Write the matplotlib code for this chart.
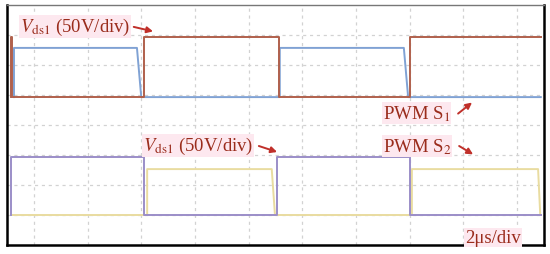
import matplotlib.pyplot as plt

# Осциллограмма: время в делениях (2 мкс/дел), уровни в делениях
red_t = [0.08, 0.08, 0.09, 0.09, 2.55, 2.55, 5.07, 5.07, 7.50, 7.50, 9.94]
red_v = [4.93, 6.93, 6.93, 4.93, 4.93, 6.93, 6.93, 4.93, 4.93, 6.93, 6.93]

blue_t = [0.13, 0.13, 2.42, 2.50, 5.08, 5.08, 7.39, 7.47, 9.94]
blue_v = [4.93, 6.57, 6.57, 4.93, 4.93, 6.57, 6.57, 4.93, 4.93]

purple_t = [0.08, 0.08, 2.55, 2.55, 5.03, 5.03, 7.50, 7.50, 9.94]
purple_v = [1.00, 2.93, 2.93, 1.00, 1.00, 2.93, 2.93, 1.00, 1.00]

yellow_t = [0.08, 2.61, 2.61, 4.93, 4.99, 7.54, 7.54, 9.89, 9.93]
yellow_v = [1.00, 1.00, 2.53, 2.53, 1.00, 1.00, 2.53, 2.53, 1.00]

grid_x = [0.5, 1.5, 2.5, 3.5, 4.5, 5.5, 6.5, 7.5, 8.5, 9.5]
grid_y = [1, 2, 3, 4, 5, 6, 7]

plt.rcParams['font.family'] = ['Liberation Serif', 'DejaVu Serif']
plt.rcParams['mathtext.fontset'] = 'stix'

fig = plt.figure(figsize=(5.5, 2.55), dpi=100)
ax = fig.add_axes([7 / 550, 9 / 255, 537 / 550, 240 / 255])
ax.set_xlim(0, 10)
ax.set_ylim(0, 8)
ax.set_xticks([])
ax.set_yticks([])

# Сетка
for gx in grid_x:
    ax.axvline(gx, color='#d2d2d2', lw=0.9, ls=(0, (2.5, 3)), zorder=1)
for gy in grid_y:
    ax.axhline(gy, color='#d2d2d2', lw=0.9, ls=(0, (2.5, 3)), zorder=1)

# Сигналы
ax.plot(yellow_t, yellow_v, color='#e9dca0', lw=1.4, zorder=2)
ax.plot(purple_t, purple_v, color='#9b8ec8', lw=1.4, zorder=3)
ax.plot(blue_t, blue_v, color='#80a2d4', lw=1.4, zorder=3)
ax.plot(red_t, red_v, color='#b0604c', lw=1.4, zorder=3)

txt_color = '#9a2c1c'
arr_color = '#c0302a'
box = dict(facecolor='#fde8ef', edgecolor='none', pad=0.5)
fs = 13.5

def label(x, y, s, a_from, a_to):
    ax.text(x, y, s, fontsize=fs, color=txt_color, ha='left', va='baseline',
            bbox=box, zorder=5)
    if a_from is not None:
        ax.annotate('', xy=a_to, xytext=a_from,
                    arrowprops=dict(arrowstyle='-|>', color=arr_color,
                                    lw=1.4, mutation_scale=9,
                                    shrinkA=0, shrinkB=0), zorder=6)

label(0.24, 7.13, r'$V_{\mathrm{ds1}}$ (50V/div)', (2.36, 7.27), (2.72, 7.12))
label(7.00, 4.23, r'PWM S$_{1}$', (8.40, 4.38), (8.66, 4.75))
label(2.53, 3.17, r'$V_{\mathrm{ds1}}$ (50V/div)', (4.69, 3.30), (5.03, 3.10))
label(7.00, 3.13, r'PWM S$_{2}$', (8.42, 3.30), (8.68, 3.02))
label(8.53, 0.10, r'2μs/div', None, None)

# Рамка
for side in ['left', 'right', 'bottom']:
    ax.spines[side].set_linewidth(1.8)
    ax.spines[side].set_color('black')
ax.spines['top'].set_linewidth(1.0)
ax.spines['top'].set_color('#777777')

fig.savefig('out.png', dpi=100)
